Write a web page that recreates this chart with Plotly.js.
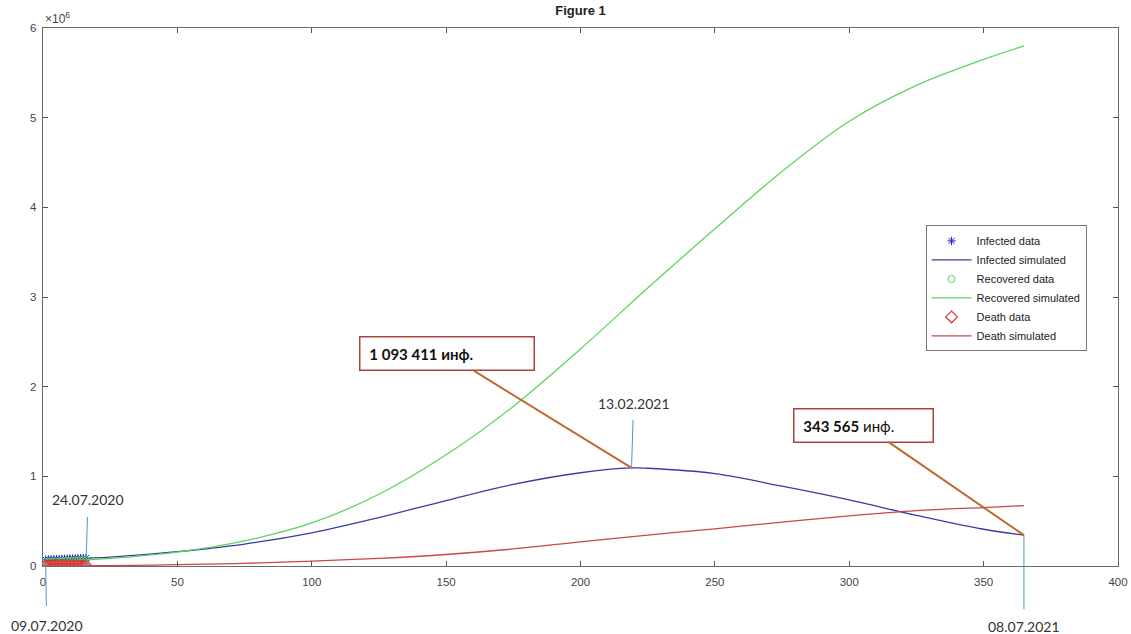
<!DOCTYPE html>
<html>
<head>
<meta charset="utf-8">
<script src="https://cdn.plot.ly/plotly-3.0.1.min.js"></script>
<style>html,body{margin:0;padding:0;background:#fff;}#chart{width:1131px;height:634px;}</style>
</head>
<body>
<div id="chart"></div>
<script>
// Observed data (days 1..16 = 09.07.2020 .. 24.07.2020)
const dataDays = [1,2,3,4,5,6,7,8,9,10,11,12,13,14,15,16];
const infectedData = [70500,71800,73000,74100,75600,76900,78200,79300,80700,81900,83200,84400,85700,86800,88100,89300];
const recoveredData = [44200,45600,47100,48300,49900,51200,52800,54100,55600,56900,58300,59700,61000,62400,63800,65100];
const deathData = [1500,1530,1560,1590,1620,1650,1690,1720,1750,1790,1820,1860,1890,1930,1960,2000];

// Simulated model (day index)
const simDaysI = [1,16,25,50,75,100,125,150,175,200,219,225,250,275,300,325,350,365];
const infectedSim = [68000,88000,100000,160000,245000,370000,540000,730000,910000,1040000,1093411,1090000,1030000,890000,737000,565000,410000,343565];
const simDays = [1,16,25,50,75,100,125,150,175,200,225,250,275,300,325,350,365];
const recoveredSim = [45000,70000,85000,155000,280000,480000,800000,1240000,1780000,2420000,3100000,3760000,4400000,4960000,5360000,5650000,5800000];
const deathSim = [1000,2000,4000,15000,30000,55000,85000,128000,190000,270000,345000,415000,490000,560000,618000,652000,673000];

// Labels
const startDate = '09.07.2020';
const dataEndDate = '24.07.2020';
const peakDate = '13.02.2021';
const endDate = '08.07.2021';
const yTickVals = [0,1e6,2e6,3e6,4e6,5e6,6e6];
const yTickText = ['0','1','2','3','4','5','6'];
const xTickVals = [0,50,100,150,200,250,300,350,400];

function fmt(v){ return String(Math.round(v)).replace(/\B(?=(\d{3})+(?!\d))/g,' '); }

const cBlue = '#3a3aa6', cGreen = '#5fd35f', cRed = '#c94848';
const cArrow = '#c0672f', cDate = '#4a98c4', cBox = '#a94442';
const baseFont = 'Liberation Sans, Arial, sans-serif';
const annFont = 'Lato, "Open Sans", sans-serif';

const traces = [
  {x: dataDays, y: infectedData, name: 'Infected data', mode: 'markers', type: 'scatter',
   marker: {symbol: 'asterisk-open', size: 7, color: '#2020c0', line: {color: '#2020c0', width: 1}}},
  {x: simDaysI, y: infectedSim, name: 'Infected simulated', mode: 'lines', type: 'scatter',
   line: {color: cBlue, width: 1.3, shape: 'spline', smoothing: 1}},
  {x: dataDays, y: recoveredData, name: 'Recovered data', mode: 'markers', type: 'scatter',
   marker: {symbol: 'circle-open', size: 7, color: cGreen, line: {color: cGreen, width: 1}}},
  {x: simDays, y: recoveredSim, name: 'Recovered simulated', mode: 'lines', type: 'scatter',
   line: {color: cGreen, width: 1.3, shape: 'spline', smoothing: 1}},
  {x: dataDays, y: deathData, name: 'Death data', mode: 'markers', type: 'scatter',
   marker: {symbol: 'diamond-open', size: 9, color: '#e03030', line: {color: '#e03030', width: 1.2}}},
  {x: simDays, y: deathSim, name: 'Death simulated', mode: 'lines', type: 'scatter',
   line: {color: cRed, width: 1.3, shape: 'spline', smoothing: 1}}
];

const peakIdx = infectedSim.indexOf(Math.max(...infectedSim));
const lastI = infectedSim.length - 1;
const nb = '\u00a0';

const annotations = [
  {xref: 'paper', yref: 'paper', x: 0, y: 1, xanchor: 'left', yanchor: 'bottom', showarrow: false,
   text: '×10<sup>6</sup>', font: {family: baseFont, size: 12, color: '#444'}},
  {x: simDaysI[peakIdx], y: infectedSim[peakIdx], text: nb + '<b>' + fmt(infectedSim[peakIdx]) + ' инф.</b>',
   showarrow: true, arrowhead: 0, arrowwidth: 2, arrowcolor: cArrow, ax: -185, ay: -114,
   bordercolor: cBox, borderwidth: 1.5, borderpad: 5, bgcolor: '#fff', width: 163, height: 22, align: 'left',
   font: {family: annFont, size: 15, color: '#111'}},
  {x: simDaysI[lastI], y: infectedSim[lastI], text: nb + '<b>' + fmt(infectedSim[lastI]) + '</b> инф.',
   showarrow: true, arrowhead: 0, arrowwidth: 2, arrowcolor: cArrow, ax: -160, ay: -110,
   bordercolor: cBox, borderwidth: 1.5, borderpad: 5, bgcolor: '#fff', width: 128, height: 22, align: 'left',
   font: {family: annFont, size: 15, color: '#111'}},
  {x: simDaysI[peakIdx], y: infectedSim[peakIdx], text: peakDate, showarrow: true, arrowhead: 0,
   arrowwidth: 1, arrowcolor: cDate, ax: 2, ay: -64, startstandoff: 6,
   font: {family: annFont, size: 14, color: '#333'}},
  {x: dataDays[0], y: 0, text: startDate, showarrow: true, arrowhead: 0,
   arrowwidth: 1, arrowcolor: cDate, ax: 1, ay: 59, startstandoff: 9,
   font: {family: annFont, size: 14, color: '#333'}},
  {x: dataDays[dataDays.length-1], y: 0, text: dataEndDate, showarrow: true, arrowhead: 0,
   arrowwidth: 1, arrowcolor: cDate, ax: 2, ay: -67, startstandoff: 8,
   font: {family: annFont, size: 14, color: '#333'}},
  {x: simDaysI[lastI], y: infectedSim[lastI], text: endDate, showarrow: true, arrowhead: 0,
   arrowwidth: 1, arrowcolor: cDate, ax: 0, ay: 91, startstandoff: 7,
   font: {family: annFont, size: 14, color: '#333'}}
];

const axisCommon = {showline: true, mirror: 'ticks', ticks: 'inside', ticklen: 5, tickwidth: 1,
  tickcolor: '#555', linecolor: '#6a6a6a', linewidth: 1.4, showgrid: false, zeroline: false,
  tickfont: {family: baseFont, size: 11.5, color: '#444'}};

const layout = {
  width: 1131, height: 634,
  margin: {l: 43, r: 13, t: 28, b: 68},
  paper_bgcolor: '#fff', plot_bgcolor: '#fff',
  title: {text: '<b>Figure 1</b>', x: 0.5, xref: 'paper', y: 0.984, yanchor: 'middle',
          font: {family: baseFont, size: 13, color: '#222'}},
  xaxis: Object.assign({}, axisCommon, {range: [0, 400], tickvals: xTickVals, ticklabelstandoff: 5}),
  yaxis: Object.assign({}, axisCommon, {range: [0, 6e6], tickvals: yTickVals, ticktext: yTickText, ticklabelstandoff: 3}),
  showlegend: true,
  legend: {x: 0.821, y: 0.633, xanchor: 'left', yanchor: 'top', bgcolor: '#fff', itemwidth: 40,
           bordercolor: '#777', borderwidth: 1, font: {family: baseFont, size: 11, color: '#222'}},
  annotations: annotations
};

Plotly.newPlot('chart', traces, layout, {displayModeBar: false, staticPlot: true});
</script>
</body>
</html>
